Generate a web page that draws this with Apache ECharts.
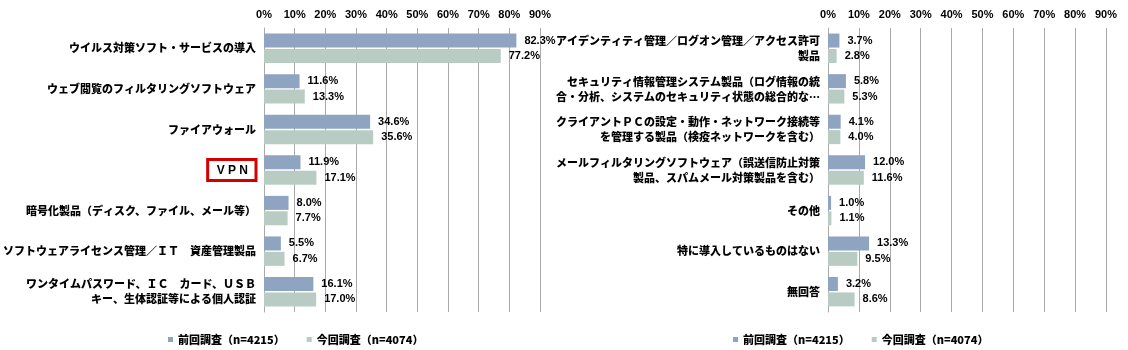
<!DOCTYPE html>
<html>
<head>
<meta charset="utf-8">
<script src="https://cdn.jsdelivr.net/npm/echarts@6/dist/echarts.min.js"></script>
<style>
  html, body { margin: 0; padding: 0; background: #fff; }
  #chart { width: 1128px; height: 350px; }
</style>
</head>
<body>
<div id="chart"></div>
<script>
// data
var seriesNames = ['前回調査（n=4215）', '今回調査（n=4074）'];
var tickLabels = [0, 10, 20, 30, 40, 50, 60, 70, 80, 90];

var leftCategories = [
    'ウイルス対策ソフト・サービスの導入',
    'ウェブ閲覧のフィルタリングソフトウェア',
    'ファイアウォール',
    'ＶＰＮ',
    '暗号化製品（ディスク、ファイル、メール等）',
    'ソフトウェアライセンス管理／ＩＴ　資産管理製品',
    'ワンタイムパスワード、ＩＣ　カード、ＵＳＢ\nキー、生体認証等による個人認証'
];
var leftPrev = [82.3, 11.6, 34.6, 11.9, 8.0, 5.5, 16.1];
var leftNow = [77.2, 13.3, 35.6, 17.1, 7.7, 6.7, 17.0];

var rightCategories = [
    'アイデンティティ管理／ログオン管理／アクセス許可\n製品',
    'セキュリティ情報管理システム製品（ログ情報の統\n合・分析、システムのセキュリティ状態の総合的な…',
    'クライアントＰＣの設定・動作・ネットワーク接続等\nを管理する製品（検疫ネットワークを含む）',
    'メールフィルタリングソフトウェア（誤送信防止対策\n製品、スパムメール対策製品を含む）',
    'その他',
    '特に導入しているものはない',
    '無回答'
];
var rightPrev = [3.7, 5.8, 4.1, 12.0, 1.0, 13.3, 3.2];
var rightNow = [2.8, 5.3, 4.0, 11.6, 1.1, 9.5, 8.6];

var colors = ['#8ea4c1', '#b9ccc4'];
var font = '"Noto Sans CJK JP", "Liberation Sans", sans-serif';

var myChart = echarts.init(document.getElementById('chart'));

function makeX(gridIndex) {
    return {
        type: 'value',
        gridIndex: gridIndex,
        position: 'top',
        min: tickLabels[0],
        max: tickLabels[tickLabels.length - 1],
        interval: 10,
        axisLine: { show: false },
        axisTick: { show: false },
        axisLabel: {
            formatter: '{value}%',
            color: '#000',
            fontFamily: '"Liberation Sans", sans-serif',
            fontWeight: 'bold',
            fontSize: 11,
            margin: 8
        },
        splitLine: { show: true, lineStyle: { color: '#aaa', width: 1 } }
    };
}

function makeY(gridIndex, cats) {
    return {
        type: 'category',
        gridIndex: gridIndex,
        data: cats,
        inverse: true,
        axisLine: { show: true, lineStyle: { color: '#aaa', width: 1 } },
        axisTick: { show: false },
        axisLabel: {
            color: '#000',
            fontFamily: font,
            fontWeight: 900,
            fontSize: 11,
            lineHeight: 15,
            margin: 8,
            formatter: function (v) {
                if (v === 'ＶＰＮ') {
                    return '{box|V P N}';
                }
                return v;
            },
            rich: {
                box: {
                    color: '#000',
                    fontFamily: '"Liberation Sans", sans-serif',
                    fontWeight: 'bold',
                    fontSize: 12,
                    borderColor: '#d40000',
                    borderWidth: 3,
                    padding: [5, 8, 4, 9]
                }
            }
        }
    };
}

function makeBar(name, data, idx, color) {
    return {
        name: name,
        type: 'bar',
        xAxisIndex: idx,
        yAxisIndex: idx,
        data: data,
        barWidth: 14,
        barGap: '10%',
        itemStyle: { color: color },
        label: {
            show: true,
            position: 'right',
            distance: 8,
            color: '#000',
            fontFamily: '"Liberation Sans", sans-serif',
            fontWeight: 'bold',
            fontSize: 11,
            formatter: function (p) { return p.value.toFixed(1) + '%'; }
        }
    };
}

function makeLegend(left) {
    return {
        data: seriesNames,
        top: 329,
        left: left,
        icon: 'rect',
        itemWidth: 5,
        itemHeight: 5,
        itemGap: 22,
        textStyle: {
            color: '#000',
            fontFamily: font,
            fontWeight: 900,
            fontSize: 11
        }
    };
}

var option = {
    backgroundColor: '#fff',
    animation: false,
    grid: [
        { left: 264, width: 276, top: 28, height: 284 },
        { left: 828, width: 278, top: 28, height: 284 }
    ],
    legend: [makeLegend(163), makeLegend(728)],
    xAxis: [makeX(0), makeX(1)],
    yAxis: [makeY(0, leftCategories), makeY(1, rightCategories)],
    series: [
        makeBar(seriesNames[0], leftPrev, 0, colors[0]),
        makeBar(seriesNames[1], leftNow, 0, colors[1]),
        makeBar(seriesNames[0], rightPrev, 1, colors[0]),
        makeBar(seriesNames[1], rightNow, 1, colors[1])
    ]
};

myChart.setOption(option);
</script>
</body>
</html>
